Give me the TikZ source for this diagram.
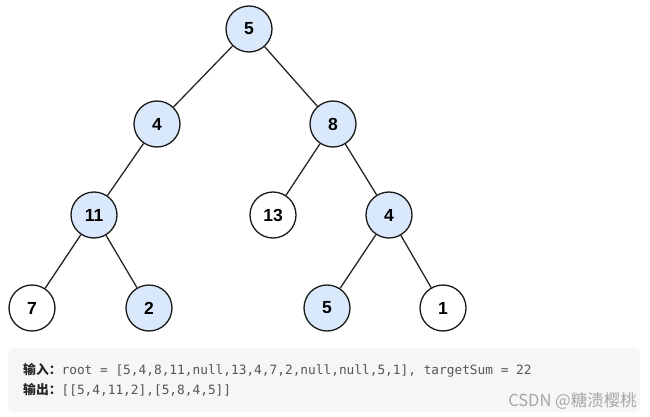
\documentclass[tikz,border=0pt]{standalone}
\usepackage{fontspec}
\setmainfont{Liberation Sans}
\setmonofont{DejaVu Sans Mono}
\newfontfamily\cjkfont{Noto Sans CJK SC}
\usepackage{tikz}
\usetikzlibrary{positioning}
\usepackage{xcolor}
\definecolor{NodeBlue}{HTML}{DAE8FC}
\definecolor{BoxGray}{HTML}{F6F6F6}
\definecolor{CodeGray}{HTML}{555555}
\definecolor{MarkGray}{HTML}{A6A6A6}

\begin{document}
\begin{tikzpicture}[x=1pt, y=-1pt]
          \tikzstyle{vtx} = [circle, draw=black!90, line width=1.3pt, fill=white,
            minimum size=46pt, inner sep=0pt, font=\fontsize{17.5}{18}\selectfont\bfseries]
          \tikzstyle{vtxpath} = [vtx, fill=NodeBlue]
          \tikzstyle{edge} = [draw=black!85, line width=1.3pt]
          \useasboundingbox (0,0) rectangle (650,417);

          % Nivel 0 y 1
          \node[vtxpath] (n5) at (249, 29) {5};
          \node[vtxpath] (n4) at (157,124) {4};
          \node[vtxpath] (n8) at (333,124) {8};

          % Nivel 2
          \node[vtxpath] (n11) at (94,215) {11};
          \node[vtx] (n13) at (273,215) {13};
          \node[vtxpath] (n4b) at (389,215) {4};

          % Nivel 3 (hojas)
          \node[vtx] (n7) at (32,308) {7};
          \node[vtxpath] (n2) at (149,308) {2};
          \node[vtxpath] (n5b) at (327,308) {5};
          \node[vtx] (n1) at (443,308) {1};

          % Aristas
          \foreach \a/\b in {n5/n4, n5/n8, n4/n11, n8/n13, n8/n4b, n11/n7, n11/n2, n4b/n5b, n4b/n1}
            \draw[edge] (\a) -- (\b);

          % Caja de ejemplo
          \node[draw=none, fill=BoxGray, rounded corners=5pt, minimum width=632pt,
            minimum height=64pt, anchor=north west, inner sep=0pt] (box) at (8,348) {};
          \node[anchor=west, inner sep=0pt, font=\fontsize{12.8}{14}\selectfont] (inp) at (23,370)
            {{\cjkfont\bfseries\color{black!85}输入：}{\ttfamily\color{CodeGray}root = [5,4,8,11,null,13,4,7,2,null,null,5,1], targetSum = 22}};
          \node[anchor=west, inner sep=0pt, font=\fontsize{12.8}{14}\selectfont] (out) at (23,390)
            {{\cjkfont\bfseries\color{black!85}输出：}{\ttfamily\color{CodeGray}[[5,4,11,2],[5,8,4,5]]}};
          \node[anchor=east, inner sep=0pt, text=MarkGray, font=\cjkfont\fontsize{16.5}{17}\selectfont] (mark) at (637,401)
            {CSDN @糖渍樱桃};
        \end{tikzpicture}
\end{document}
